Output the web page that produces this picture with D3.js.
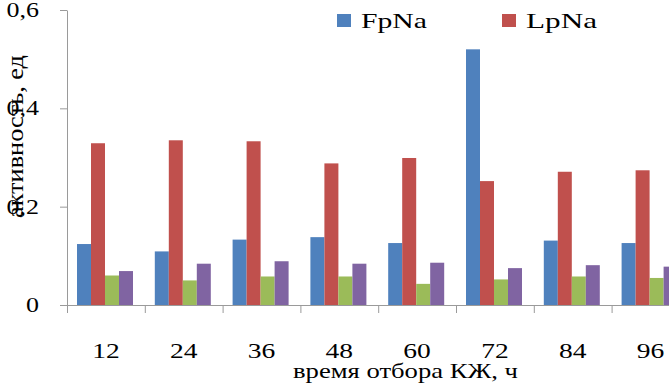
<!DOCTYPE html>
<html>
<head>
  <meta charset="utf-8">
  <title>Активность по времени отбора</title>
  <script src="https://d3js.org/d3.v7.min.js"></script>
  <style>
    body {
      margin: 0px;
      padding: 0px;
      background: #ffffff;
    }

    svg text {
      font-family: "Liberation Serif", "Times New Roman", serif;
      fill: #000000;
    }

    .axis path, .axis line {
      stroke: #9a9a9a;
      stroke-width: 1;
    }
  </style>
</head>
<body>
  <div id="chart"></div>
  <script>

    /* DATA */

    let hours = ["12", "24", "36", "48", "60", "72", "84", "96"];
    let seriesKeys = ["FpNa", "LpNa", "s3", "s4"];
    let legendNames = ["FpNa", "LpNa"];

    let fpNa   = [0.124, 0.109, 0.133, 0.138, 0.126, 0.520, 0.131, 0.126];
    let lpNa   = [0.329, 0.335, 0.333, 0.288, 0.299, 0.252, 0.271, 0.274];
    let green  = [0.060, 0.050, 0.058, 0.058, 0.043, 0.052, 0.058, 0.055];
    let purple = [0.069, 0.084, 0.089, 0.084, 0.086, 0.075, 0.081, 0.078];

    let yTicks = [0, 0.2, 0.4, 0.6];
    let colors = ["#4f81bd", "#c0504d", "#9bbb59", "#8064a2"];

    let rows = hours.map(function(h, i) {
      return {hour: h, values: [fpNa[i], lpNa[i], green[i], purple[i]]};
    });

    /* CANVAS */

    let chart = {};
    chart.width = 669;
    chart.height = 384;
    chart.margin = {top: 10, left: 67, bottom: 79};
    chart.band = 77.8;

    chart.svg = d3.select("#chart")
      .append("svg")
      .attr("width", chart.width)
      .attr("height", chart.height);

    /* SCALES */

    chart.x0 = d3.scaleBand()
      .domain(hours)
      .range([chart.margin.left, chart.margin.left + hours.length * chart.band])
      .padding(0);

    chart.x1 = d3.scaleBand()
      .domain(seriesKeys)
      .range([10, 66])
      .padding(0);

    chart.y = d3.scaleLinear()
      .domain([0, 0.6])
      .range([chart.height - chart.margin.bottom, chart.margin.top]);

    let baseY = chart.y(0);

    /* BARS */

    chart.groups = chart.svg.selectAll("g.group")
      .data(rows)
      .enter()
      .append("g")
        .attr("class", "group")
        .attr("transform", function(d) { return `translate(${chart.x0(d.hour)},0)`; });

    chart.groups.selectAll("rect")
      .data(function(d) { return d.values.map(function(v, i) { return {key: seriesKeys[i], value: v, i: i}; }); })
      .enter()
      .append("rect")
        .attr("x", function(d) { return chart.x1(d.key); })
        .attr("y", function(d) { return chart.y(d.value); })
        .attr("width", chart.x1.bandwidth())
        .attr("height", function(d) { return baseY - chart.y(d.value); })
        .attr("fill", function(d) { return colors[d.i]; });

    /* AXES */

    // x axis: labels centred in each band, ticks on the band edges
    chart.xAxis = chart.svg.append("g")
      .attr("class", "axis")
      .attr("transform", `translate(0,${baseY})`)
      .call(d3.axisBottom(chart.x0).tickSize(0).tickPadding(37).tickSizeOuter(0));

    chart.xAxis.selectAll("text")
      .style("font-size", "22px")
      .attr("transform", "scale(1.25,1)");

    chart.xAxis.selectAll("line.edge")
      .data(hours)
      .enter()
      .append("line")
        .attr("class", "edge")
        .attr("x1", function(d) { return chart.x0(d) + 0.5; })
        .attr("x2", function(d) { return chart.x0(d) + 0.5; })
        .attr("y1", 0)
        .attr("y2", 8);

    chart.yAxis = chart.svg.append("g")
      .attr("class", "axis")
      .attr("transform", `translate(${chart.margin.left},0)`)
      .call(d3.axisLeft(chart.y)
        .tickValues(yTicks)
        .tickSize(7)
        .tickSizeOuter(0)
        .tickFormat(function(d) { return d === 0 ? "0" : String(d).replace(".", ","); }));

    chart.yAxis.selectAll("text")
      .style("font-size", "20px")
      .attr("x", -28 / 1.3)
      .attr("transform", "scale(1.3,1)");

    /* AXIS TITLES */

    chart.svg.append("text")
      .attr("x", 293)
      .attr("y", 378)
      .attr("textLength", 225)
      .attr("lengthAdjust", "spacingAndGlyphs")
      .style("font-size", "22px")
      .text("время отбора КЖ, ч");

    chart.svg.append("text")
      .attr("transform", "rotate(-90)")
      .attr("x", -218)
      .attr("y", 23)
      .attr("textLength", 163)
      .attr("lengthAdjust", "spacingAndGlyphs")
      .style("font-size", "23px")
      .text("активность, ед");

    /* LEGEND */

    chart.legend = chart.svg.selectAll("g.legend")
      .data(legendNames)
      .enter()
      .append("g")
        .attr("class", "legend")
        .attr("transform", function(d, i) { return `translate(${337 + i * 165},14)`; });

    chart.legend.append("rect")
      .attr("width", 14)
      .attr("height", 13)
      .attr("fill", function(d, i) { return colors[i]; });

    chart.legend.append("text")
      .attr("x", 24)
      .attr("y", 14)
      .attr("textLength", function(d, i) { return i === 0 ? 66 : 71; })
      .attr("lengthAdjust", "spacingAndGlyphs")
      .style("font-size", "22px")
      .text(function(d) { return d; });

  </script>
</body>
</html>
